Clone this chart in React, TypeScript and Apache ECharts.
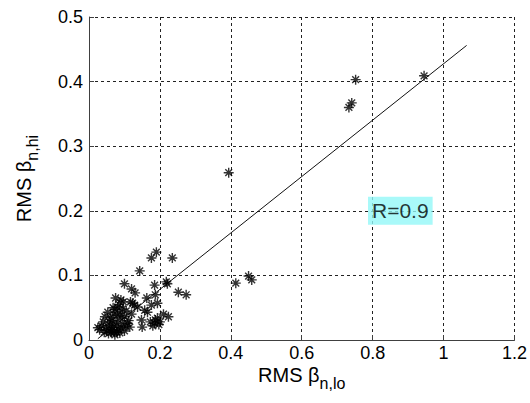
import React, { useEffect, useRef } from "react";
import * as echarts from "echarts";

const xTickValues = [0, 0.2, 0.4, 0.6, 0.8, 1, 1.2];
const yTickValues = [0, 0.1, 0.2, 0.3, 0.4, 0.5];

const outlierPoints: [number, number][] = [
  [0.945, 0.409], [0.752, 0.403], [0.741, 0.367], [0.733, 0.36],
  [0.394, 0.259], [0.414, 0.088], [0.45, 0.099], [0.459, 0.093],
];

const midPoints: [number, number][] = [
  [0.19, 0.136], [0.176, 0.127], [0.235, 0.127], [0.143, 0.107], [0.1, 0.087],
  [0.12, 0.079], [0.13, 0.073], [0.185, 0.085], [0.218, 0.09], [0.221, 0.087],
  [0.252, 0.074], [0.274, 0.07], [0.187, 0.07], [0.163, 0.065], [0.193, 0.057],
  [0.176, 0.054], [0.165, 0.043], [0.157, 0.046], [0.148, 0.031], [0.15, 0.02],
  [0.173, 0.028], [0.187, 0.031], [0.2, 0.028], [0.21, 0.04], [0.224, 0.036],
  [0.185, 0.026], [0.193, 0.034], [0.197, 0.024], [0.18, 0.022],
];

const clusterPoints: [number, number][] = [
  [0.137, 0.051], [0.123, 0.057], [0.128, 0.054], [0.117, 0.059], [0.075, 0.065],
  [0.09, 0.062], [0.097, 0.059], [0.053, 0.043], [0.045, 0.036], [0.04, 0.028],
  [0.025, 0.019], [0.03, 0.016], [0.073, 0.047], [0.081, 0.051], [0.087, 0.042],
  [0.1, 0.036], [0.109, 0.026], [0.115, 0.02], [0.062, 0.012], [0.073, 0.008],
  [0.087, 0.011], [0.048, 0.02], [0.059, 0.023], [0.1, 0.014], [0.076, 0.028],
  [0.09, 0.034], [0.067, 0.019], [0.09, 0.019], [0.065, 0.03], [0.08, 0.038],
  [0.095, 0.025], [0.055, 0.01], [0.105, 0.045], [0.07, 0.04], [0.083, 0.016],
  [0.06, 0.035], [0.112, 0.03], [0.078, 0.022], [0.068, 0.05], [0.085, 0.055],
  [0.035, 0.022], [0.05, 0.015], [0.12, 0.04], [0.095, 0.048], [0.058, 0.028],
  [0.104, 0.021], [0.072, 0.012], [0.043, 0.012], [0.064, 0.016], [0.079, 0.012],
];

const fitLine: [number, number][] = [[0.025, 0.002], [1.065, 0.456]];

const annotationPoint: [number, number][] = [[0.878, 0.2]];
const annotationText = "R=0.9";

const FONT = "'Liberation Sans', Arial, sans-serif";
const STAR = "path://M5,0 L5,10 M0,5 L10,5 M1.6,1.6 L8.4,8.4 M8.4,1.6 L1.6,8.4";

export default function App() {
  const ref = useRef<HTMLDivElement>(null);
  useEffect(() => {
    if (!ref.current) return;
    const chart = echarts.init(ref.current, null, { renderer: "svg" });
    const gridLine = { show: true, lineStyle: { color: "#222", type: [3, 3] as any, width: 1 } };
    const nameRich = {
      a: { fontSize: 20, fontFamily: FONT, color: "#000", lineHeight: 18, verticalAlign: "top" },
      b: { fontSize: 16, fontFamily: FONT, color: "#000", lineHeight: 26, verticalAlign: "bottom" },
    };
    chart.setOption({
      animation: false,
      backgroundColor: "#fff",
      textStyle: { fontFamily: FONT },
      grid: { left: 89, right: 12, top: 17, bottom: 63, containLabel: false },
      xAxis: {
        type: "value",
        min: 0,
        max: 1.2,
        interval: 0.2,
        name: "{a|RMS β}{b|n,lo}",
        nameLocation: "middle",
        nameGap: 25,
        nameMoveOverlap: false,
        nameTextStyle: { fontFamily: FONT, color: "#000", verticalAlign: "top", rich: nameRich },
        axisLine: { show: true, onZero: false, lineStyle: { color: "#404040", width: 1 } },
        axisTick: { show: true, inside: true, length: 5, lineStyle: { color: "#404040" } },
        axisLabel: {
          fontSize: 18,
          lineHeight: 14,
          color: "#000",
          fontFamily: FONT,
          margin: 6,
          formatter: (v: number) => (xTickValues.includes(Math.round(v * 10) / 10) ? String(Math.round(v * 10) / 10) : ""),
        },
        splitLine: gridLine,
      },
      yAxis: {
        type: "value",
        min: 0,
        max: 0.5,
        interval: 0.1,
        name: "{a|RMS β}{b|n,hi}",
        nameLocation: "middle",
        nameGap: 49,
        nameMoveOverlap: false,
        nameRotate: 90,
        nameTextStyle: { fontFamily: FONT, color: "#000", rich: nameRich },
        axisLine: { show: true, onZero: false, lineStyle: { color: "#404040", width: 1 } },
        axisTick: { show: true, inside: true, length: 5, lineStyle: { color: "#404040" } },
        axisLabel: {
          fontSize: 18,
          color: "#000",
          fontFamily: FONT,
          margin: 6,
          formatter: (v: number) => (yTickValues.includes(Math.round(v * 10) / 10) ? String(Math.round(v * 10) / 10) : ""),
        },
        splitLine: gridLine,
      },
      series: [
        {
          type: "line",
          data: fitLine,
          symbol: "none",
          lineStyle: { color: "#111", width: 1 },
          z: 3,
        },
        {
          type: "scatter",
          data: [...clusterPoints, ...midPoints, ...outlierPoints],
          symbol: STAR,
          symbolSize: 10,
          itemStyle: { color: "rgba(0,0,0,0)", borderColor: "#000", borderWidth: 1.4 },
          z: 4,
        },
        {
          type: "scatter",
          data: annotationPoint,
          symbolSize: 0,
          silent: true,
          label: {
            show: true,
            position: "inside",
            formatter: annotationText,
            fontFamily: FONT,
            fontSize: 21,
            color: "#000",
            backgroundColor: "#93f8f8",
            padding: [3, 4, 2, 4],
            lineHeight: 23,
          },
          z: 5,
        },
      ],
    });
    return () => chart.dispose();
  }, []);
  return <div ref={ref} style={{ width: 530, height: 403, position: "absolute", left: 0, top: 0 }} />;
}
